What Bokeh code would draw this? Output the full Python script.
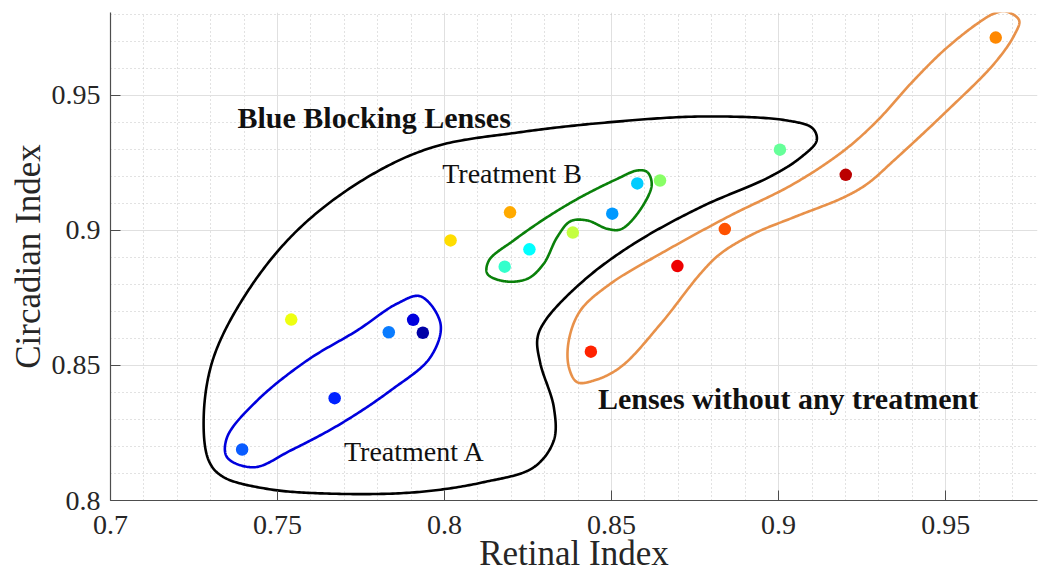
import numpy as np
from bokeh.plotting import figure
from bokeh.models import Range1d, FixedTicker, CustomJSTickFormatter, Label
from bokeh.embed import file_html
from bokeh.resources import INLINE

# ---------------- data ----------------
retinal = [0.7394, 0.7671, 0.7833, 0.7906, 0.7935, 0.7541, 0.8018, 0.8196,
           0.8180, 0.8254, 0.8384, 0.8502, 0.8577, 0.8645, 0.9004, 0.9201,
           0.8839, 0.8697, 0.8438, 0.9650]
circadian = [0.8189, 0.8379, 0.8623, 0.8669, 0.8621, 0.8670, 0.8963, 0.9067,
             0.8866, 0.8930, 0.8992, 0.9062, 0.9174, 0.9185, 0.9299, 0.9206,
             0.9005, 0.8868, 0.8551, 0.9714]
point_colors = ["#0a5cff", "#0022ff", "#0a7cff", "#0000dd", "#0000a6", "#eeff10",
                "#ffdd00", "#ffaa00", "#33ffcc", "#00ffff", "#c4ff40", "#0099ff",
                "#00ccff", "#88ff66", "#66ff99", "#bb0000", "#ff5200", "#ee0000",
                "#ff2200", "#ff8800"]

x_ticks = [0.7, 0.75, 0.8, 0.85, 0.9, 0.95]
y_ticks = [0.8, 0.85, 0.9, 0.95]

# group outlines (control points, data units)
blue_x = [0.7928, 0.7988, 0.7958, 0.7838, 0.7689, 0.7539, 0.7429, 0.7349,
          0.7349, 0.7439, 0.7589, 0.7739, 0.7858]
blue_y = [0.8756, 0.8654, 0.8531, 0.8407, 0.8284, 0.8185, 0.8123, 0.8160,
          0.8234, 0.8370, 0.8519, 0.8630, 0.8729]

green_x = [0.8607, 0.8620, 0.8578, 0.8527, 0.8487, 0.8427, 0.8377, 0.8337,
           0.8297, 0.8248, 0.8178, 0.8128, 0.8133, 0.8207, 0.8307, 0.8407,
           0.8517, 0.8577]
green_y = [0.9216, 0.9167, 0.9063, 0.9004, 0.9006, 0.9037, 0.9034, 0.8975,
           0.8877, 0.8821, 0.8812, 0.8840, 0.8889, 0.8963, 0.9049, 0.9123,
           0.9191, 0.9222]

black_x = [0.7769, 0.7569, 0.7419, 0.7309, 0.7279, 0.7294, 0.7335, 0.7469,
           0.7669, 0.7918, 0.8118, 0.8267, 0.8327, 0.8327, 0.8287, 0.8278,
           0.8302, 0.8417, 0.8567, 0.8766, 0.8976, 0.9066, 0.9114, 0.9102,
           0.9026, 0.8776, 0.8497, 0.8228, 0.7967]
black_y = [0.9197, 0.9012, 0.8790, 0.8531, 0.8309, 0.8148, 0.8089, 0.8043,
           0.8025, 0.8031, 0.8068, 0.8123, 0.8222, 0.8346, 0.8506, 0.8600,
           0.8667, 0.8815, 0.8951, 0.9086, 0.9200, 0.9270, 0.9333, 0.9378,
           0.9407, 0.9422, 0.9401, 0.9364, 0.9309]

orange_x = [0.9680, 0.9720, 0.9705, 0.9645, 0.9495, 0.9345, 0.9266, 0.9196,
            0.9046, 0.8926, 0.8826, 0.8766, 0.8647, 0.8527, 0.8447, 0.8397,
            0.8372, 0.8372, 0.8407, 0.8497, 0.8647, 0.8846, 0.9046, 0.9196,
            0.9296, 0.9395, 0.9495, 0.9595, 0.9645]
orange_y = [0.9811, 0.9778, 0.9722, 0.9617, 0.9432, 0.9259, 0.9173, 0.9123,
            0.9049, 0.8988, 0.8914, 0.8840, 0.8654, 0.8494, 0.8444, 0.8438,
            0.8494, 0.8593, 0.8704, 0.8803, 0.8914, 0.9049, 0.9173, 0.9296,
            0.9407, 0.9543, 0.9667, 0.9766, 0.9803]

# ---------------- figure ----------------
X0, X1 = 0.7, 0.9775
Y0, Y1 = 0.8, 0.9807
W, H = 1039, 576
ML, MR, MT, MB = 110, 2, 12, 76

p = figure(width=W, height=H, x_range=Range1d(X0, X1), y_range=Range1d(Y0, Y1),
           output_backend="svg", toolbar_location=None,
           min_border_left=ML, min_border_right=MR, min_border_top=MT,
           min_border_bottom=MB)
p.outline_line_color = None
p.background_fill_color = "white"
p.border_fill_color = "white"

x_minor = [round(v, 2) for v in np.arange(0.70, 0.98, 0.01) if round(v, 2) not in x_ticks]
y_minor = [round(v, 2) for v in np.arange(0.80, 0.985, 0.01) if round(v, 2) not in y_ticks]
p.xaxis.ticker = FixedTicker(ticks=x_ticks, minor_ticks=x_minor)
p.yaxis.ticker = FixedTicker(ticks=y_ticks, minor_ticks=y_minor)
fmt = CustomJSTickFormatter(code="var s = tick.toFixed(2); if (s.endsWith('0')) s = s.slice(0, -1); return s;")
p.xaxis.formatter = fmt
p.yaxis.formatter = fmt

for ax in (p.xaxis, p.yaxis):
    ax.axis_line_color = "#4d4d4d"
    ax.axis_line_width = 1.2
    ax.major_tick_line_color = "#4d4d4d"
    ax.major_tick_in = 10
    ax.major_tick_out = 0
    ax.minor_tick_in = 0
    ax.minor_tick_out = 0
    ax.major_label_text_font = "Liberation Serif"
    ax.major_label_text_font_size = "28px"
    ax.major_label_text_color = "#262626"
    ax.axis_label_text_font = "Liberation Serif"
    ax.axis_label_text_font_size = "35px"
    ax.axis_label_text_font_style = "normal"
    ax.axis_label_text_color = "#262626"

p.xaxis.axis_label = "Retinal Index"
p.yaxis.axis_label = "Circadian Index"
p.xaxis.major_label_standoff = 15
p.xaxis.axis_label_standoff = -3
p.yaxis.major_label_standoff = 10
p.yaxis.axis_label_standoff = 1

for g in (p.xgrid, p.ygrid):
    g.grid_line_color = "#e0e0e0"
    g.grid_line_width = 1
    g.minor_grid_line_color = "#c4c4c4"
    g.minor_grid_line_dash = "1 3"
    g.minor_grid_line_width = 1

# ---------------- smoothing of outlines ----------------
sx = (W - ML - MR) / (X1 - X0)
sy = (H - MT - MB) / (Y1 - Y0)


def smooth_closed(xs, ys, n=30):
    P = np.column_stack([np.asarray(xs) * sx, np.asarray(ys) * sy])
    N = len(P)
    segs = []
    for i in range(N):
        p0, p1, p2, p3 = P[(i - 1) % N], P[i], P[(i + 1) % N], P[(i + 2) % N]
        t0 = 0.0
        t1 = t0 + np.linalg.norm(p1 - p0) ** 0.5
        t2 = t1 + np.linalg.norm(p2 - p1) ** 0.5
        t3 = t2 + np.linalg.norm(p3 - p2) ** 0.5
        t = np.linspace(t1, t2, n, endpoint=False)[:, None]
        A1 = (t1 - t) / (t1 - t0) * p0 + (t - t0) / (t1 - t0) * p1
        A2 = (t2 - t) / (t2 - t1) * p1 + (t - t1) / (t2 - t1) * p2
        A3 = (t3 - t) / (t3 - t2) * p2 + (t - t2) / (t3 - t2) * p3
        B1 = (t2 - t) / (t2 - t0) * A1 + (t - t0) / (t2 - t0) * A2
        B2 = (t3 - t) / (t3 - t1) * A2 + (t - t1) / (t3 - t1) * A3
        C = (t2 - t) / (t2 - t1) * B1 + (t - t1) / (t2 - t1) * B2
        segs.append(C)
    C = np.vstack(segs)
    C = np.vstack([C, C[:1]])
    return list(C[:, 0] / sx), list(C[:, 1] / sy)


for xs, ys, col in ((black_x, black_y, "#000000"),
                    (orange_x, orange_y, "#e8914a"),
                    (green_x, green_y, "#0a800a"),
                    (blue_x, blue_y, "#0000dd")):
    cx, cy = smooth_closed(xs, ys)
    p.line(cx, cy, line_color=col, line_width=2.6, line_join="round")

p.scatter(retinal, circadian, size=12.5, fill_color=point_colors,
          line_color=None, marker="circle")

# ---------------- annotations ----------------
labels = [
    ("Blue Blocking Lenses", 0.7380, 0.9418, "bold", "30px"),
    ("Lenses without any treatment", 0.8459, 0.8379, "bold", "30px"),
    ("Treatment B", 0.7993, 0.9212, "normal", "28px"),
    ("Treatment A", 0.7699, 0.8181, "normal", "28px"),
]
for txt, lx, ly, style, size in labels:
    p.add_layout(Label(x=lx, y=ly, text=txt, text_font="Liberation Serif",
                       text_font_style=style, text_font_size=size,
                       text_color="#111111", text_baseline="alphabetic",
                       text_align="left"))

open("out.html", "w").write(file_html(p, INLINE))
